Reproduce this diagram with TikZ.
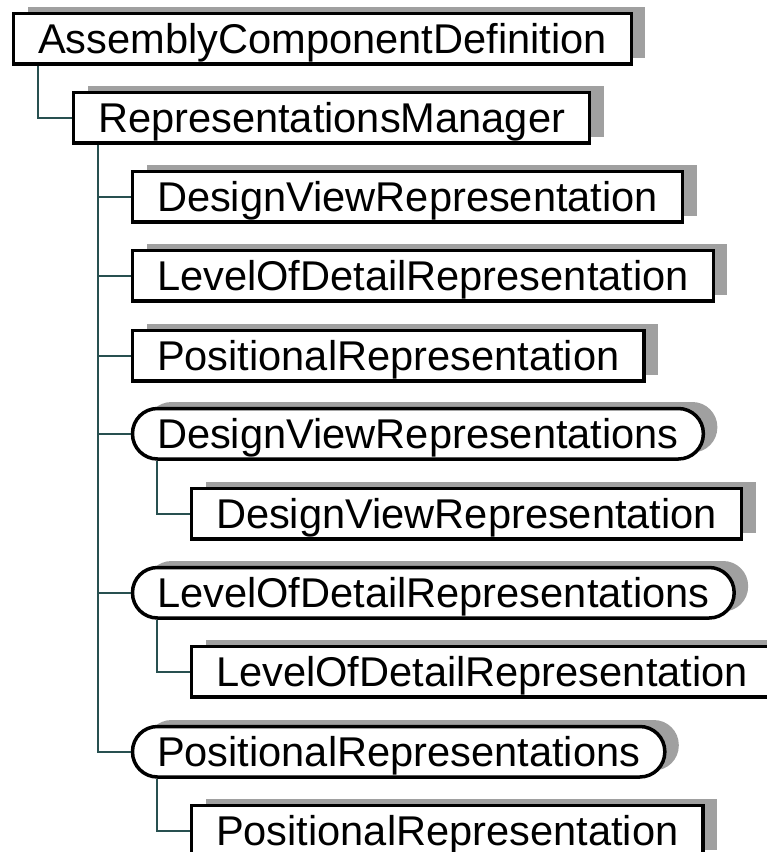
\documentclass[tikz,border=0pt]{standalone}
\usepackage{fontspec}
\setmainfont{Liberation Sans}
\usetikzlibrary{shadows}
\definecolor{conn}{RGB}{40,80,80}
\definecolor{shade}{RGB}{160,160,160}
\tikzset{
  item/.style={draw=black, line width=3.5pt, fill=white, anchor=north west,
    inner xsep=24.5pt, inner ysep=0pt, minimum height=50.5pt,
    text height=30pt, text depth=1pt,
    font=\fontsize{41.6pt}{50pt}\selectfont,
    general shadow={fill=shade, draw=none, shadow xshift=14pt, shadow yshift=6.5pt}},
  coll/.style={item, rounded corners=25pt},
  link/.style={draw=conn, line width=1.5pt},
}
\begin{document}
\begin{tikzpicture}[x=1pt, y=-1pt]
\useasboundingbox (0,0) rectangle (767,852);
\clip (0,0) rectangle (767,852);
\node[item] (a) at (11.75,11.75) {AssemblyComponentDefinition};
\node[item] (b) at (71.75,90.75) {RepresentationsManager};
\node[item] (c) at (130.75,169.75) {DesignViewRepresentation};
\node[item] (d) at (130.75,248.75) {LevelOfDetailRepresentation};
\node[item] (e) at (130.75,328.75) {PositionalRepresentation};
\node[coll] (f) at (130.75,406.75) {DesignViewRepresentations};
\node[item] (g) at (189.75,486.75) {DesignViewRepresentation};
\node[coll] (h) at (130.75,565.75) {LevelOfDetailRepresentations};
\node[item] (i) at (189.75,644.75) {LevelOfDetailRepresentation};
\node[coll] (j) at (130.75,724.75) {PositionalRepresentations};
\node[item] (k) at (189.75,803.75) {PositionalRepresentation};
\draw[link] ([xshift=26pt]a.south west) |- (b.west);
\draw[link] ([xshift=26pt]b.south west) |- (c.west);
\draw[link] ([xshift=26pt]b.south west) |- (d.west);
\draw[link] ([xshift=26pt]b.south west) |- (e.west);
\draw[link] ([xshift=26pt]b.south west) |- (f.west);
\draw[link] ([xshift=26pt]b.south west) |- (h.west);
\draw[link] ([xshift=26pt]b.south west) |- (j.west);
\draw[link] ([xshift=26pt]f.south west) |- (g.west);
\draw[link] ([xshift=26pt]h.south west) |- (i.west);
\draw[link] ([xshift=26pt]j.south west) |- (k.west);
\end{tikzpicture}
\end{document}
